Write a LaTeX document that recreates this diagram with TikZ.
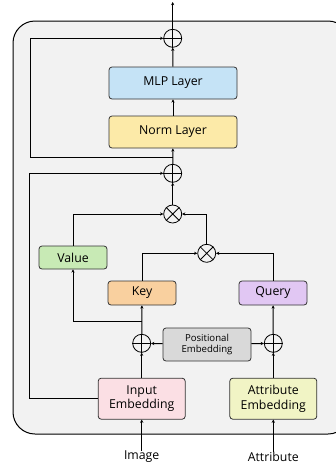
\documentclass[tikz,border=0pt]{standalone}
\usepackage{fontspec}
\setmainfont{Open Sans}
\usetikzlibrary{arrows.meta}
\definecolor{bgc}{HTML}{F2F2F2}
\definecolor{mlpc}{HTML}{C5E3F6}
\definecolor{normc}{HTML}{FCEAA8}
\definecolor{valc}{HTML}{C8EAB5}
\definecolor{keyc}{HTML}{F9D09F}
\definecolor{qc}{HTML}{E1C7F3}
\definecolor{inc}{HTML}{FBDFE4}
\definecolor{attc}{HTML}{F1F4C5}
\definecolor{pec}{HTML}{D9D9D9}
\tikzset{
  box/.style={draw=black!80, line width=0.8pt, rounded corners=3pt, align=center, inner sep=0pt, font=\fontsize{12.3}{14.5}\selectfont},
  opc/.style={draw=black, line width=0.8pt, circle, minimum size=18pt, inner sep=0pt},
  conn/.style={line width=1pt, -{Stealth[length=3.2pt,width=3.2pt]}},
  lbl/.style={font=\fontsize{12.3}{14}\selectfont, inner sep=0pt}
}
\newcommand{\oplusnode}[2]{%
  \node[opc] (#1) at (#2) {};
  \draw[line width=0.8pt] (#1.north) -- (#1.south) (#1.west) -- (#1.east);}
\newcommand{\otimesnode}[2]{%
  \node[opc] (#1) at (#2) {};
  \draw[line width=0.8pt] (#1.north west) -- (#1.south east) (#1.north east) -- (#1.south west);}
\begin{document}
\begin{tikzpicture}[x=1pt,y=-1pt]
\useasboundingbox (0,0) rectangle (336,466);
\begin{scope}
\clip (0,0) rectangle (336,466);
\draw[fill=bgc, line width=1pt, rounded corners=22pt] (13,21) rectangle (350,434);
\end{scope}
% nodes
\oplusnode{p1}{172.7,38.3}
\node[box, fill=mlpc, minimum width=128pt, minimum height=32pt] (mlp) at (173,83) {MLP Layer};
\node[box, fill=normc, minimum width=128pt, minimum height=32pt] (norm) at (173,132) {Norm Layer};
\oplusnode{p2}{172.7,173.3}
\otimesnode{x1}{172.7,214}
\otimesnode{x2}{206.7,253.3}
\node[box, fill=valc, minimum width=68pt, minimum height=23pt] (val) at (73,257.5) {Value};
\node[box, fill=keyc, minimum width=68pt, minimum height=24pt] (key) at (142,293) {Key};
\node[box, fill=qc, minimum width=68pt, minimum height=24pt] (qry) at (273,293) {Query};
\oplusnode{p3}{141.7,343.3}
\oplusnode{p4}{273.3,343.3}
\node[box, fill=pec, minimum width=88pt, minimum height=33pt, font=\fontsize{9.6}{11.5}\selectfont] (pe) at (207,344.5) {Positional\\Embedding};
\node[box, fill=inc, minimum width=87pt, minimum height=41pt] (inp) at (141.7,398.7) {Input\\Embedding};
\node[box, fill=attc, minimum width=87pt, minimum height=41pt] (att) at (273.3,398.7) {Attribute\\Embedding};
\node[lbl] (img) at (141.7,457) {Image};
\node[lbl] (atl) at (273.3,457) {Attribute};
\coordinate (top) at (172.7,2);
% connectors
\draw[conn] (p1) -- (top);
\draw[conn] (mlp) -- (p1);
\draw[conn] (norm) -- (mlp);
\draw[conn] (p2) -- (norm);
\draw[conn] (172.7,157) -- (30.7,157) -- (30.7,38.3) -- (p1);
\draw[conn] (x1) -- (p2);
\draw[conn] (inp.west) -| (29.3,173.3) -- (p2);
\draw[conn] (val.north) |- (x1);
\draw[conn] (x2.north) |- (x1);
\draw[conn] (key.north) |- (x2);
\draw[conn] (qry.north) |- (x2);
\draw[conn] (p3) -- (key);
\draw[conn] (p4) -- (qry);
\draw[conn] (141.7,321) -| (val.south);
\draw[conn] (pe) -- (p3);
\draw[conn] (pe) -- (p4);
\draw[conn] (inp) -- (p3);
\draw[conn] (att) -- (p4);
\draw[conn] (img) -- (inp);
\draw[conn] (atl) -- (att);
\end{tikzpicture}
\end{document}
